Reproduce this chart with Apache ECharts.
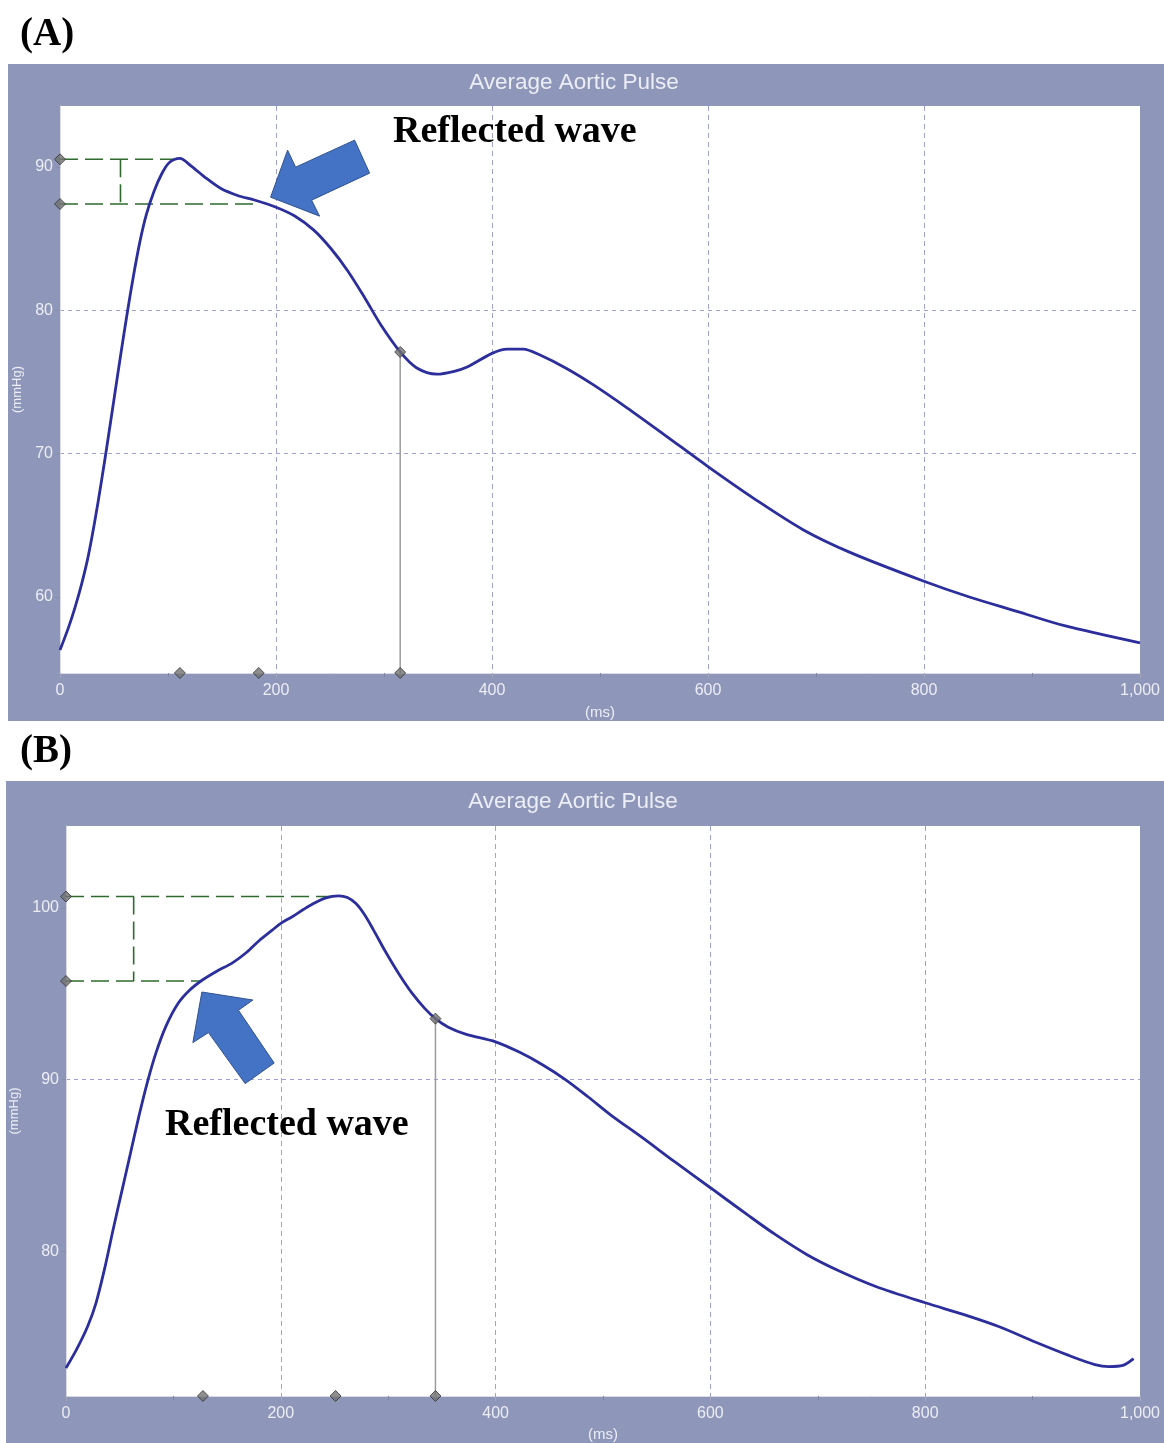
<!DOCTYPE html>
<html><head><meta charset="utf-8">
<script src="https://cdn.jsdelivr.net/npm/echarts@6/dist/echarts.min.js"></script>
<style>html,body{margin:0;padding:0;background:#fff}#c{width:1164px;height:1443px}</style>
</head><body><div id="c"></div>
<script>
// ---- Panel A data (ms, mmHg) ----
const timeA = [0,8,14,20,26,32,38,44,50,56,62,68,74,80,87,94,101,111,121,134,149,165,180,200,217,235,251,266,282,297,315,330,349,365,377,400,414,429,444,469,494,525,560,600,644,688,732,800,842,886,930,1000];
const pressureA = [56.3,57.9,59.3,60.9,62.8,65.2,67.9,70.8,73.8,76.8,79.7,82.4,84.8,86.7,88.3,89.5,90.3,90.6,90.1,89.3,88.5,88.0,87.7,87.2,86.6,85.6,84.3,82.8,80.9,79.0,77.1,76.0,75.55,75.75,76.05,77.0,77.3,77.3,76.9,75.95,74.8,73.2,71.3,69.1,66.8,64.7,63.1,61.1,60.0,59.0,58.0,56.8];
// ---- Panel B data (ms, mmHg) ----
const timeB = [0,10,20,28,36,44,52,60,68,76,84,93,104,115,127,140,155,168,180,192,200,211,226,242,254,262,270,278,286,297,310,322,334,344,356,372,400,422,444,465,486,507,537,567,600,635,661,690,720,754,800,839,869,903,933,958,971,984,994];
const pressureB = [73.2,74.3,75.6,77.0,79.0,81.3,83.5,85.7,87.9,89.9,91.6,93.1,94.4,95.2,95.8,96.3,96.8,97.4,98.1,98.7,99.1,99.5,100.1,100.58,100.7,100.6,100.25,99.6,98.75,97.5,96.15,95.05,94.15,93.55,93.05,92.65,92.2,91.6,90.85,90.0,89.0,87.95,86.6,85.2,83.7,82.1,80.95,79.8,78.85,77.95,77.0,76.25,75.6,74.7,73.95,73.4,73.28,73.35,73.75];

// axis ranges and ticks
const xRange = [0, 1000];
const xTickStep = 200;
const yRangeA = [54.7, 94.26];
const yRangeB = [71.57, 104.77];
const yTicksA = [60,70,80,90];
const yTicksB = [80,90,100];

// annotation values: dashed levels (peak, reflected-wave shoulder), their end times, bracket time
const levelsA = [90.54, 87.42];
const levelEndsA = [111, 184];
const bracketA = [56];
const bottomMarksA = [111, 184, 315];
const endSystoleA = [315, 77.1];
const arrowTipA = [195, 87.9];

const levelsB = [100.66, 95.74];
const levelEndsB = [249, 126];
const bracketB = [63];
const bottomMarksB = [127.5, 251, 344];
const endSystoleB = [344, 93.55];
const arrowTipB = [126.5, 95.1];

const FRAME = '#8e96b9';
const LABEL = '#eceef5';
const CURVE = '#2b2e9b';
const GREEN = '#2f6b2f';
const GRIDC = '#9da1d3';

function zip(a, b){ return a.map((v,i)=>[v,b[i]]); }

function xAxisCfg(gi, gap){
  return {
    gridIndex: gi, type:'value', min:xRange[0], max:xRange[1], interval:xTickStep, z:1,
    name:'(ms)', nameLocation:'middle', nameGap:gap,
    nameTextStyle:{color:LABEL, fontSize:15, fontFamily:'Liberation Sans'},
    axisLine:{show:true, lineStyle:{color:'#d9dbe7', width:1}},
    axisTick:{show:true, length:5, lineStyle:{color:'#a3a6bd'}},
    minorTick:{show:true, splitNumber:2, length:4, lineStyle:{color:'#7f849f'}},
    axisLabel:{color:LABEL, fontSize:16, fontFamily:'Liberation Sans', margin:10,
      formatter:v=>v.toLocaleString('en-US')},
    splitLine:{show:true, showMinLine:false, showMaxLine:false, lineStyle:{color:GRIDC, type:[5,4], width:1}}
  };
}
function yAxisCfg(gi, range, ticks, gap){
  return {
    gridIndex: gi, type:'value', min:range[0], max:range[1], splitNumber:3, z:1,
    name:'(mmHg)', nameLocation:'middle', nameGap:gap, nameRotate:90,
    nameTextStyle:{color:LABEL, fontSize:13, fontFamily:'Liberation Sans'},
    axisLine:{show:true, lineStyle:{color:'#d9dbe7', width:1}},
    axisTick:{show:true, length:5, customValues:ticks, lineStyle:{color:'#8a8ea8'}},
    axisLabel:{color:LABEL, fontSize:16, fontFamily:'Liberation Sans', margin:7,
      showMinLabel:false, showMaxLabel:false},
    splitLine:{show:true, showMinLine:false, showMaxLine:false, lineStyle:{color:GRIDC, type:[4,4], width:1}}
  };
}
function lineS(gi, data, color, width, type){
  return {type:'line', xAxisIndex:gi, yAxisIndex:gi, data:data, showSymbol:false, silent:true,
    lineStyle:{color:color, width:width, type:type||'solid'}, z:3, animation:false};
}
function panelSeries(gi, t, p, yMin, levels, ends, bracket, bottom, endS){
  const s = [];
  s.push(lineS(gi, [[0,levels[0]],[ends[0],levels[0]]], GREEN, 1.6, [18,7]));
  s.push(lineS(gi, [[0,levels[1]],[ends[1],levels[1]]], GREEN, 1.6, [18,7]));
  s.push(lineS(gi, [[bracket[0],levels[0]],[bracket[0],levels[1]]], GREEN, 1.6, [18,7]));
  s.push(lineS(gi, [[endS[0],yMin],[endS[0],endS[1]]], '#9b9b9b', 1.5));
  const curve = lineS(gi, zip(t,p), CURVE, 2.8);
  curve.smooth = 0.3; curve.z = 5;
  s.push(curve);
  const pts = [[0,levels[0]],[0,levels[1]]].concat(bottom.map(b=>[b,yMin])).concat([endS]);
  s.push({type:'scatter', xAxisIndex:gi, yAxisIndex:gi, data:pts, symbol:'diamond', symbolSize:11,
    clip:false, silent:true, z:10, animation:false,
    itemStyle:{color:'#727272', borderColor:'#333', borderWidth:1}});
  return s;
}

const chart = echarts.init(document.getElementById('c'), null, {renderer:'canvas'});
const option = {
  backgroundColor:'#ffffff',
  animation:false,
  grid:[
    {left:60, top:106, width:1080, height:567, show:true, backgroundColor:'#ffffff', borderWidth:0},
    {left:66, top:826, width:1074, height:571, show:true, backgroundColor:'#ffffff', borderWidth:0}
  ],
  xAxis:[xAxisCfg(0, 32), xAxisCfg(1, 31)],
  yAxis:[yAxisCfg(0, yRangeA, yTicksA, 29), yAxisCfg(1, yRangeB, yTicksB, 41)],
  series: panelSeries(0, timeA, pressureA, yRangeA[0], levelsA, levelEndsA, bracketA, bottomMarksA, endSystoleA)
    .concat(panelSeries(1, timeB, pressureB, yRangeB[0], levelsB, levelEndsB, bracketB, bottomMarksB, endSystoleB))
};
chart.setOption(option);

function arrow(tipData, gi, offs, id){
  const tip = chart.convertToPixel({gridIndex:gi}, tipData);
  return {type:'polygon', id:id, z:100, silent:true,
    shape:{points: offs.map(o=>[tip[0]+o[0], tip[1]+o[1]])},
    style:{fill:'#4472c4', stroke:'#2f528f', lineWidth:1}};
}
const offA = [[0,0],[17,-47],[25,-30],[84,-57],[99,-24],[41,3],[49,19]];
const offB = [[0,0],[51,8],[36.6,18.3],[72.3,71],[43.3,91.6],[6.6,40.6],[-9,50.6]];

const serif = 'Liberation Serif, Times New Roman, serif';
chart.setOption({
  graphic:[
    {type:'rect', id:'frameA', z:-10, silent:true, shape:{x:8,y:64,width:1156,height:657}, style:{fill:FRAME}},
    {type:'rect', id:'frameB', z:-10, silent:true, shape:{x:6,y:781,width:1158,height:662}, style:{fill:FRAME}},
    {type:'text', id:'titleA', z:50, x:574, y:83, style:{text:'Average Aortic Pulse', fill:LABEL, font:'22.5px Liberation Sans', textAlign:'center', textVerticalAlign:'middle'}},
    {type:'text', id:'titleB', z:50, x:573, y:802, style:{text:'Average Aortic Pulse', fill:LABEL, font:'22.5px Liberation Sans', textAlign:'center', textVerticalAlign:'middle'}},
    {type:'text', id:'labA', z:50, x:20, y:35, style:{text:'(A)', fill:'#000', font:'bold 39px '+serif, textAlign:'left', textVerticalAlign:'middle'}},
    {type:'text', id:'labB', z:50, x:20, y:752, style:{text:'(B)', fill:'#000', font:'bold 39px '+serif, textAlign:'left', textVerticalAlign:'middle'}},
    {type:'text', id:'rwA', z:50, x:393, y:132, style:{text:'Reflected wave', fill:'#000', font:'bold 38px '+serif, textAlign:'left', textVerticalAlign:'middle'}},
    {type:'text', id:'rwB', z:50, x:165, y:1125, style:{text:'Reflected wave', fill:'#000', font:'bold 38px '+serif, textAlign:'left', textVerticalAlign:'middle'}},
    arrow(arrowTipA, 0, offA, 'arrA'),
    arrow(arrowTipB, 1, offB, 'arrB')
  ]
});
</script></body></html>
